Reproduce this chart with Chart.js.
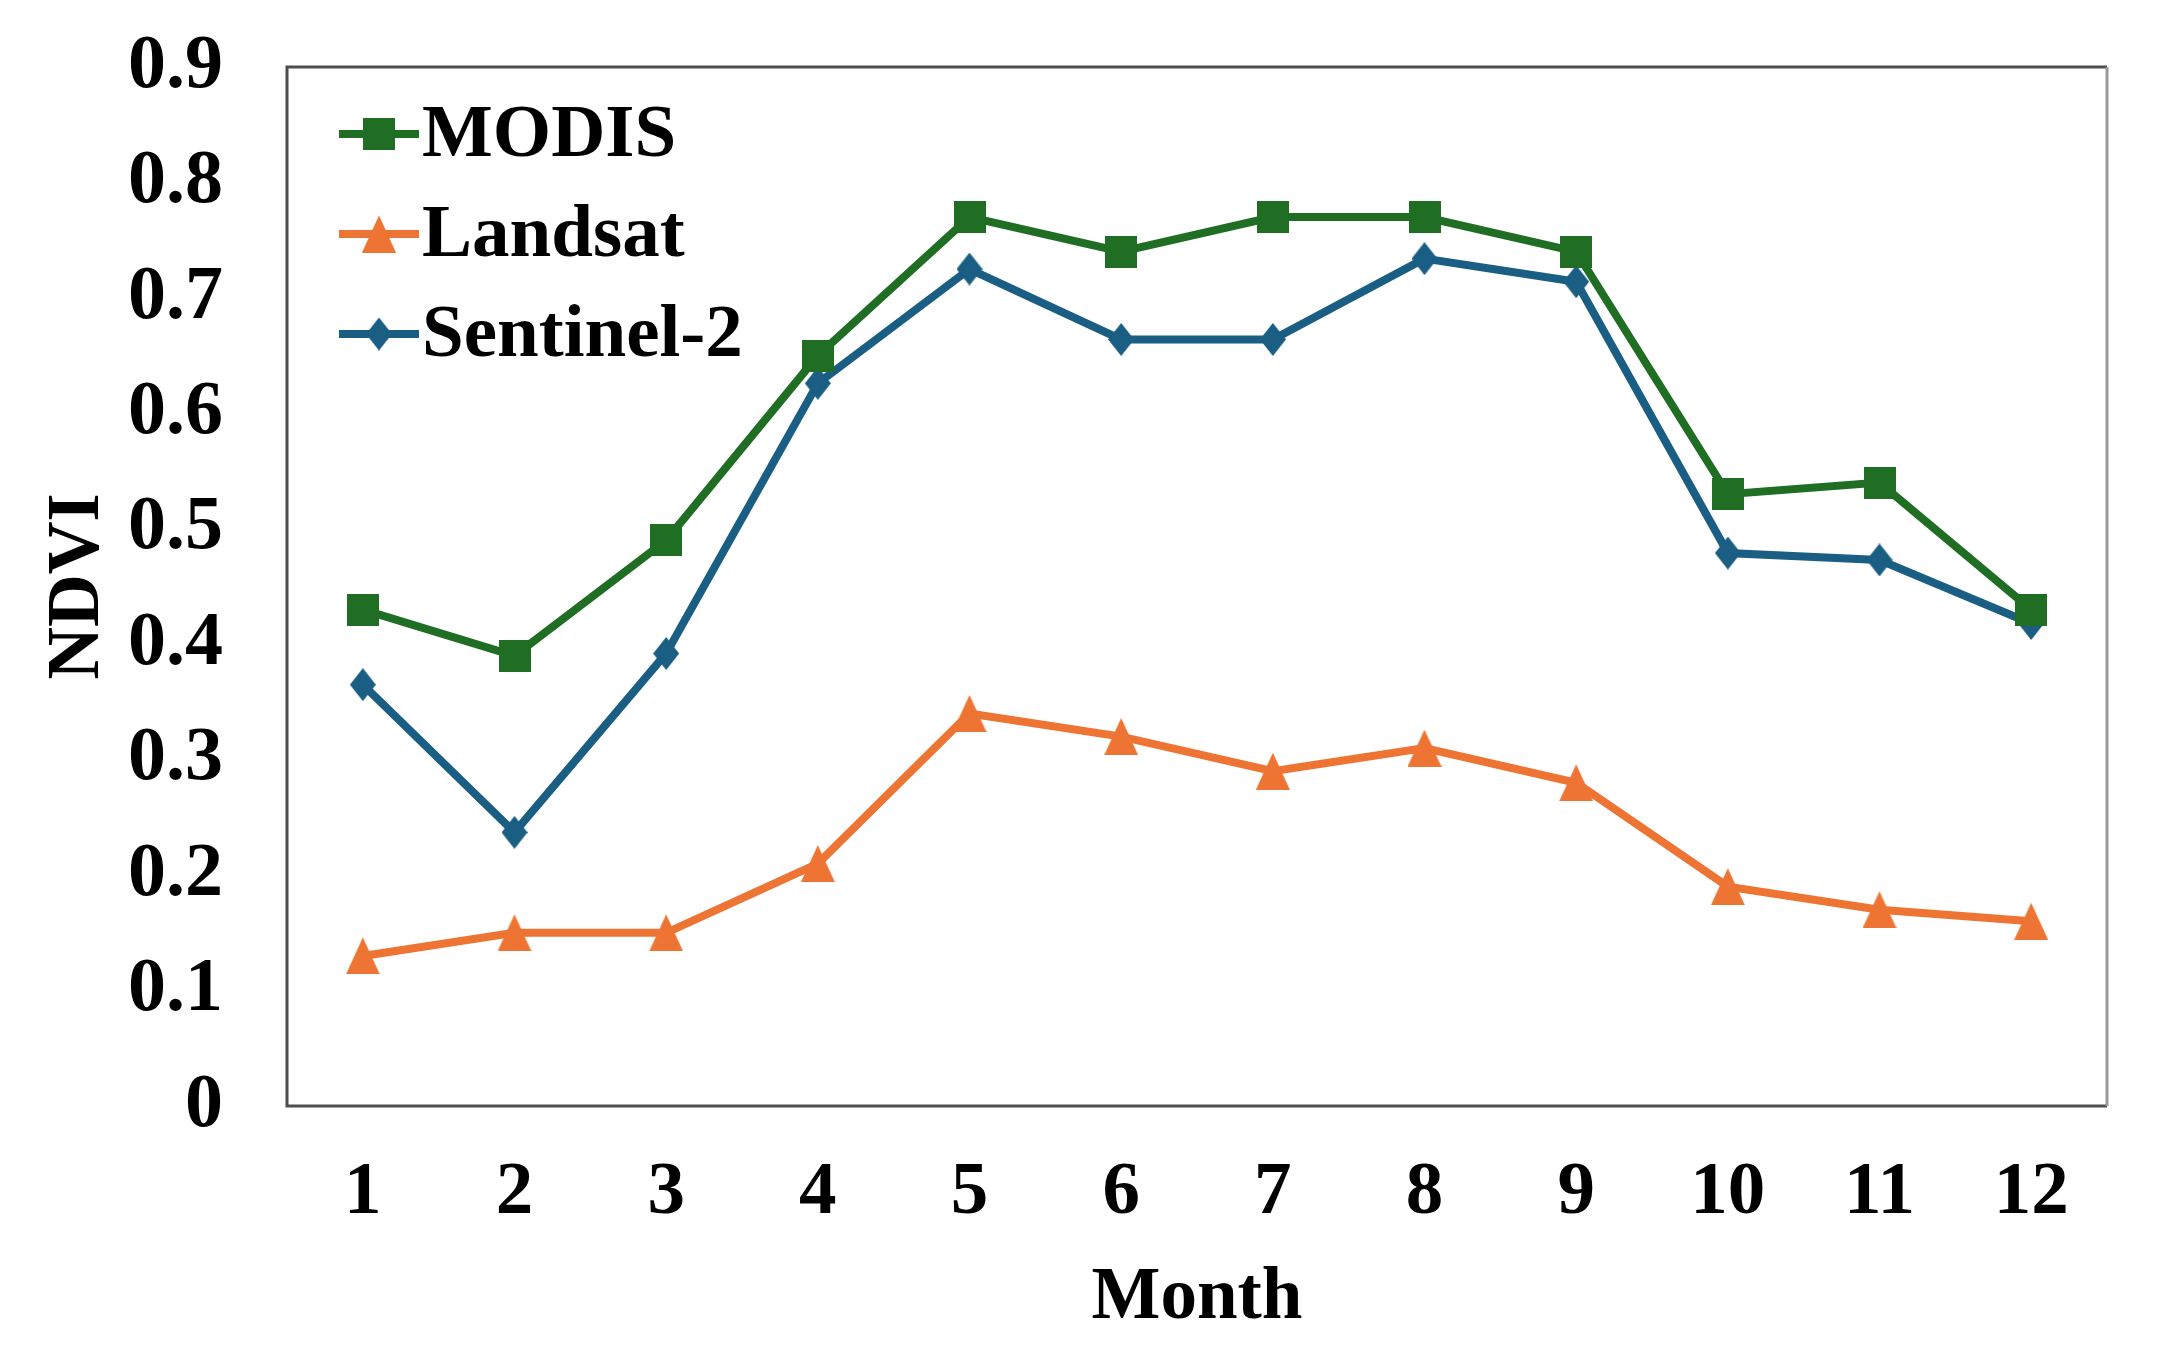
<!DOCTYPE html>
<html>
<head>
<meta charset="utf-8">
<script src="https://cdn.jsdelivr.net/npm/chart.js@4/dist/chart.umd.min.js"></script>
<style>
  html, body { margin: 0; padding: 0; background: #ffffff; }
  #wrap { width: 2159px; height: 1351px; position: relative; }
</style>
</head>
<body>
<div id="wrap"><canvas id="ndviChart"></canvas></div>
<script>
// values
const months = ["1", "2", "3", "4", "5", "6", "7", "8", "9", "10", "11", "12"];
const modis = [0.43, 0.39, 0.49, 0.65, 0.77, 0.74, 0.77, 0.77, 0.74, 0.53, 0.54, 0.43];
const landsat = [0.13, 0.15, 0.15, 0.21, 0.34, 0.32, 0.29, 0.31, 0.28, 0.19, 0.17, 0.16];
const sentinel = [0.365, 0.237, 0.392, 0.626, 0.725, 0.664, 0.664, 0.734, 0.714, 0.479, 0.473, 0.418];
const yTicks = [0, 0.1, 0.2, 0.3, 0.4, 0.5, 0.6, 0.7, 0.8, 0.9];

const GREEN = "#1f6e24";
const ORANGE = "#ee7433";
const BLUE = "#1b5e84";
const FONT = "'Liberation Serif', 'Times New Roman', serif";

// small canvas markers, Excel style
function makeMarker(shape, color, w, h) {
  const c = document.createElement("canvas");
  c.width = w;
  c.height = h;
  const ctx = c.getContext("2d");
  ctx.fillStyle = color;
  ctx.beginPath();
  if (shape === "square") {
    ctx.rect(0, 0, w, h);
  } else if (shape === "triangle") {
    ctx.moveTo(w / 2, 0);
    ctx.lineTo(w, h);
    ctx.lineTo(0, h);
    ctx.closePath();
  } else {
    ctx.moveTo(w / 2, 0);
    ctx.lineTo(w, h / 2);
    ctx.lineTo(w / 2, h);
    ctx.lineTo(0, h / 2);
    ctx.closePath();
  }
  ctx.fill();
  return c;
}

const squareMk = makeMarker("square", GREEN, 32, 32);
const triMk = makeMarker("triangle", ORANGE, 34, 37);
const diaMk = makeMarker("diamond", BLUE, 26, 33);

// box round the plot area
const frame = {
  id: "frame",
  beforeDatasetsDraw(chart) {
    const a = chart.chartArea;
    const ctx = chart.ctx;
    ctx.save();
    ctx.lineWidth = 3;
    ctx.strokeStyle = "#4d4d4d";
    ctx.beginPath();
    ctx.moveTo(a.right, a.bottom);
    ctx.lineTo(a.left, a.bottom);
    ctx.lineTo(a.left, a.top);
    ctx.lineTo(a.right, a.top);
    ctx.stroke();
    ctx.strokeStyle = "#9a9a9a";
    ctx.beginPath();
    ctx.moveTo(a.right, a.top);
    ctx.lineTo(a.right, a.bottom);
    ctx.stroke();
    ctx.restore();
  }
};

// legend inside the plot, line + marker like Excel
const innerLegend = {
  id: "innerLegend",
  afterDraw(chart) {
    const a = chart.chartArea;
    const ctx = chart.ctx;
    ctx.save();
    ctx.font = "bold 75px " + FONT;
    ctx.textBaseline = "middle";
    ctx.textAlign = "left";
    chart.data.datasets.forEach(function (ds, i) {
      const y = a.top + 67 + i * 100;
      const x0 = a.left + 52;
      const x1 = x0 + 80;
      ctx.strokeStyle = ds.borderColor;
      ctx.lineWidth = 8;
      ctx.beginPath();
      ctx.moveTo(x0, y);
      ctx.lineTo(x1, y);
      ctx.stroke();
      const mk = ds.pointStyle;
      ctx.drawImage(mk, (x0 + x1) / 2 - mk.width / 2, y - mk.height / 2);
      ctx.fillStyle = "#000000";
      ctx.fillText(ds.label, x1 + 3, y + 3);
    });
    ctx.restore();
  }
};

const ctx = document.getElementById("ndviChart").getContext("2d");
new Chart(ctx, {
  type: "line",
  data: {
    labels: months,
    datasets: [
      {
        label: "MODIS",
        data: modis,
        borderColor: GREEN,
        backgroundColor: GREEN,
        borderWidth: 8,
        pointStyle: squareMk,
        tension: 0
      },
      {
        label: "Landsat",
        data: landsat,
        borderColor: ORANGE,
        backgroundColor: ORANGE,
        borderWidth: 8,
        pointStyle: triMk,
        tension: 0
      },
      {
        label: "Sentinel-2",
        data: sentinel,
        borderColor: BLUE,
        backgroundColor: BLUE,
        borderWidth: 8,
        pointStyle: diaMk,
        tension: 0
      }
    ]
  },
  options: {
    responsive: true,
    maintainAspectRatio: false,
    animation: false,
    events: [],
    layout: {
      padding: { top: 67, right: 52, bottom: 10, left: 0 }
    },
    plugins: {
      legend: { display: false },
      tooltip: { enabled: false }
    },
    scales: {
      x: {
        offset: true,
        afterFit(scale) {
          scale.height = 235;
          scale.paddingLeft = 0;
          scale.paddingRight = 0;
        },
        grid: { display: false, drawTicks: false, tickLength: 0 },
        border: { display: false },
        ticks: {
          color: "#000000",
          padding: 50,
          font: { family: FONT, size: 75, weight: "bold", lineHeight: 1 }
        },
        title: {
          display: true,
          text: "Month",
          color: "#000000",
          padding: { top: 28, bottom: 5 },
          font: { family: FONT, size: 73, weight: "bold", lineHeight: 1 }
        }
      },
      y: {
        min: 0,
        max: 0.9,
        afterFit(scale) {
          scale.width = 287;
          scale.paddingTop = 0;
          scale.paddingBottom = 0;
        },
        afterBuildTicks(scale) {
          scale.ticks = yTicks.map(function (v) { return { value: v }; });
        },
        grid: { display: false, drawTicks: false, tickLength: 0 },
        border: { display: false },
        ticks: {
          color: "#000000",
          padding: 64,
          font: { family: FONT, size: 76, weight: "bold", lineHeight: 1 },
          callback: function (v) { return v === 0 ? "0" : v.toFixed(1); }
        },
        title: {
          display: true,
          text: "NDVI",
          color: "#000000",
          padding: { top: 43, bottom: 16 },
          font: { family: FONT, size: 73, weight: "bold", lineHeight: 1 }
        }
      }
    }
  },
  plugins: [frame, innerLegend]
});
</script>
</body>
</html>
